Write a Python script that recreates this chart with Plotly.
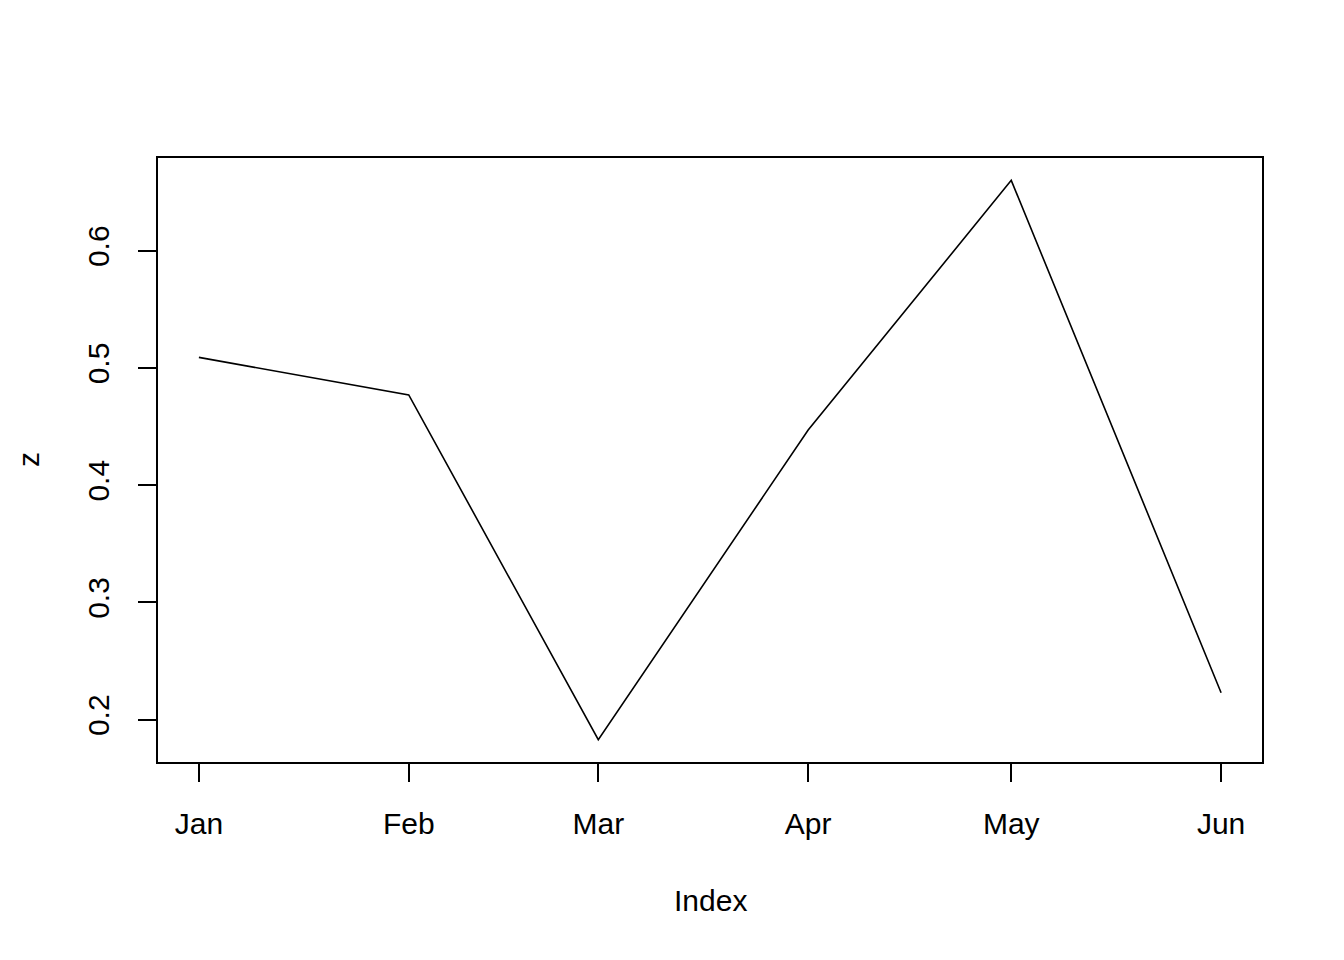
import plotly.graph_objects as go
import pandas as pd

dates = ["2021-01-01", "2021-02-01", "2021-03-01", "2021-04-01", "2021-05-01", "2021-06-01"]
z = [0.509, 0.477, 0.183, 0.447, 0.660, 0.223]
month_labels = ["Jan", "Feb", "Mar", "Apr", "May", "Jun"]
y_ticks = [0.2, 0.3, 0.4, 0.5, 0.6]

d = pd.to_datetime(dates)
span = d.max() - d.min()
xr = [d.min() - span * 0.04, d.max() + span * 0.04]
yspan = max(z) - min(z)
yr = [min(z) - yspan * 0.04, max(z) + yspan * 0.04]

fig = go.Figure(go.Scatter(x=d, y=z, mode="lines", line=dict(color="black", width=1.6)))

font = dict(family="Liberation Sans, Arial, sans-serif", size=30, color="black")
fig.update_layout(
    width=1344, height=960,
    margin=dict(l=150, r=90, t=150, b=206),
    plot_bgcolor="white", paper_bgcolor="white",
    showlegend=False, font=font,
)
fig.update_xaxes(
    range=xr, type="date", tickvals=d, ticktext=month_labels,
    showgrid=False, zeroline=False, showline=True, mirror=True,
    linecolor="black", linewidth=1.6,
    ticks="outside", ticklen=18, tickwidth=1.6, tickcolor="black",
    ticklabelstandoff=16,
)
fig.update_yaxes(
    range=yr, tickvals=y_ticks, ticktext=[str(v) for v in y_ticks],
    tickangle=-90,
    showgrid=False, zeroline=False, showline=True, mirror=True,
    linecolor="black", linewidth=1.6,
    ticks="outside", ticklen=18, tickwidth=1.6, tickcolor="black",
    ticklabelstandoff=17,
)
fig.add_annotation(text="Index", xref="paper", yref="paper", x=0.5, y=0,
                   xanchor="center", yanchor="middle", yshift=-138,
                   showarrow=False, font=font)
fig.add_annotation(text="z", xref="paper", yref="paper", x=0, y=0.5,
                   xanchor="center", yanchor="middle", xshift=-130, textangle=-90,
                   showarrow=False, font=font)
fig.write_html("out.html")
